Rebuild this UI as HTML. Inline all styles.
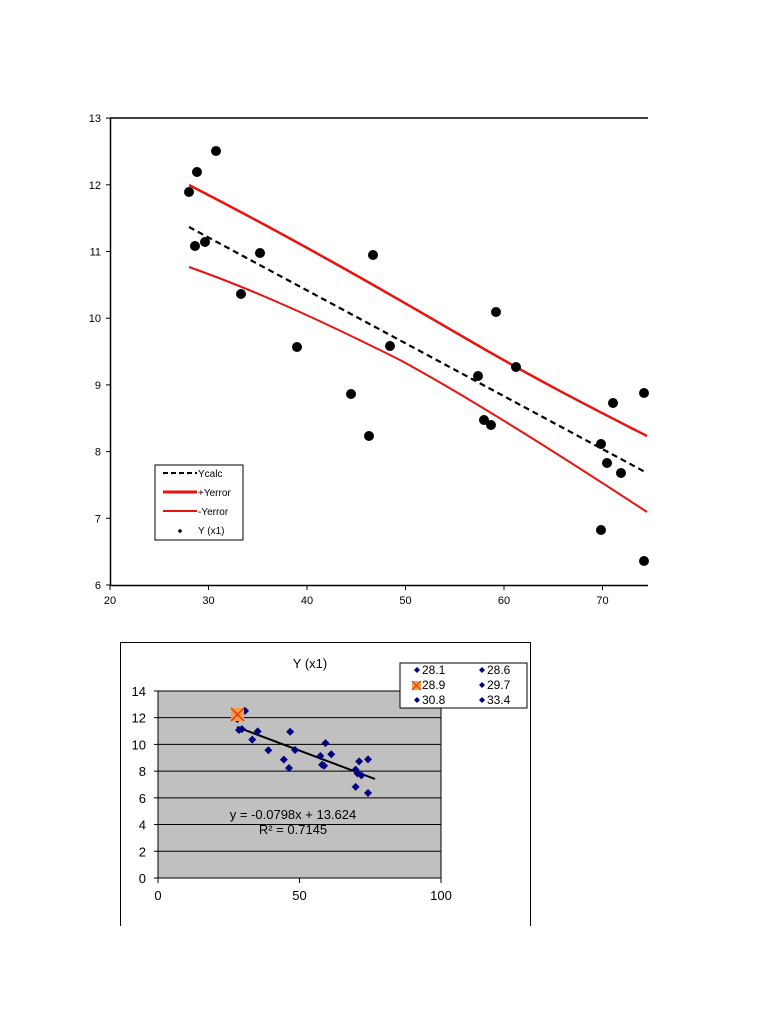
<!DOCTYPE html>
<html><head><meta charset="utf-8"><style>
html,body{margin:0;padding:0;background:#fff;}
svg{display:block;font-family:"Liberation Sans",sans-serif;}
</style></head><body>
<svg id="s" width="768" height="1024" viewBox="0 0 768 1024" xmlns="http://www.w3.org/2000/svg">
<rect width="768" height="1024" fill="#fff"/>
<line x1="110" y1="118" x2="648" y2="118" stroke="#000" stroke-width="1.5"/>
<line x1="110.5" y1="118" x2="110.5" y2="586" stroke="#000" stroke-width="1.5"/>
<line x1="110" y1="585.5" x2="648" y2="585.5" stroke="#000" stroke-width="1.5"/>
<g id="topticks" font-size="11" fill="#000"></g>
<path d="M189,185 C300,242 400,300 460,335 C540,382 600,412 647,436" fill="none" stroke="#e8130f" stroke-width="2.5"/>
<path d="M189,267 C260,292 330,325 400,360 C470,398 560,455 647,512" fill="none" stroke="#e8130f" stroke-width="2"/>
<line x1="189" y1="227" x2="647" y2="473" stroke="#000" stroke-width="2.2" stroke-dasharray="6,4"/>
<g id="toppts" fill="#000"></g>
<rect x="155" y="465" width="88" height="75" fill="#fff" stroke="#000" stroke-width="1"/>
<line x1="163" y1="473" x2="197" y2="473" stroke="#000" stroke-width="2" stroke-dasharray="5,3"/>
<text x="198" y="477" font-size="10">Ycalc</text>
<line x1="163" y1="492" x2="197" y2="492" stroke="#e8130f" stroke-width="3"/>
<text x="198" y="496" font-size="10">+Yerror</text>
<line x1="163" y1="511" x2="197" y2="511" stroke="#e8130f" stroke-width="2"/>
<text x="198" y="515" font-size="10">-Yerror</text>
<circle cx="180" cy="531" r="1.8" fill="#000"/>
<text x="198" y="534" font-size="10">Y (x1)</text>

<line x1="120.5" y1="642" x2="120.5" y2="926" stroke="#000" stroke-width="1"/>
<line x1="120" y1="642.5" x2="530" y2="642.5" stroke="#000" stroke-width="1"/>
<line x1="530.5" y1="642" x2="530.5" y2="926" stroke="#000" stroke-width="1"/>
<rect x="158" y="691" width="283" height="187" fill="#c0c0c0"/>
<g id="bgrid"></g>
<text x="310" y="668" font-size="13" text-anchor="middle">Y (x1)</text>
<line x1="237" y1="727" x2="375" y2="779" stroke="#000" stroke-width="2"/>
<g id="bpts" fill="#000080"></g>
<rect x="231" y="708" width="13" height="13" fill="#f5a03c"/>
<path d="M231,708 L244,721 M244,708 L231,721" stroke="#e8302a" stroke-width="1.5"/>
<text x="293" y="819" font-size="13" text-anchor="middle">y = -0.0798x + 13.624</text>
<text x="293" y="834" font-size="13" text-anchor="middle">R² = 0.7145</text>
<rect x="400" y="663" width="127" height="45" fill="#fff" stroke="#000" stroke-width="1"/>
<g font-size="12">
<path d="M417,667 l3,3 -3,3 -3,-3z" fill="#000080"/><text x="422" y="674">28.1</text>
<path d="M482,667 l3,3 -3,3 -3,-3z" fill="#000080"/><text x="487" y="674">28.6</text>
<rect x="412" y="681" width="9" height="9" fill="#f5a03c"/><path d="M412,681 l9,9 M421,681 l-9,9" stroke="#e8302a" stroke-width="1.2"/><text x="422" y="689">28.9</text>
<path d="M482,682 l3,3 -3,3 -3,-3z" fill="#000080"/><text x="487" y="689">29.7</text>
<path d="M417,697 l3,3 -3,3 -3,-3z" fill="#000080"/><text x="422" y="704">30.8</text>
<path d="M482,697 l3,3 -3,3 -3,-3z" fill="#000080"/><text x="487" y="704">33.4</text>
</g>
</svg>
<script>
var NS="http://www.w3.org/2000/svg";
function el(p,t,a,txt){var e=document.createElementNS(NS,t);for(var k in a)e.setAttribute(k,a[k]);if(txt!=null)e.textContent=txt;document.getElementById(p).appendChild(e);}
for(var v=6;v<=13;v++){var y=585-(v-6)*66.7;el("topticks","line",{x1:106,y1:y,x2:110,y2:y,stroke:"#000"});el("topticks","text",{x:101,y:y+4,"text-anchor":"end"},v);}
for(var v=20;v<=70;v+=10){var x=110+(v-20)*9.85;el("topticks","line",{x1:x,y1:585,x2:x,y2:590,stroke:"#000"});el("topticks","text",{x:x,y:604,"text-anchor":"middle"},v);}
var P=[[189,192],[195,246],[197,172],[205,242],[216,151],[241,294],[260,253],[297,347],[351,394],[369,436],[373,255],[390,346],[478,376],[484,420],[491,425],[496,312],[516,367],[601,444],[601,530],[607,463],[613,403],[621,473],[644,393],[644,561]];
P.forEach(function(p){el("toppts","circle",{cx:p[0],cy:p[1],r:5});});
for(var v=0;v<=14;v+=2){var y=878-v*13.36;el("bgrid","line",{x1:158,y1:y,x2:441,y2:y,stroke:"#000","stroke-width":1});el("bgrid","line",{x1:154,y1:y,x2:158,y2:y,stroke:"#000"});el("bgrid","text",{x:146,y:y+5,"text-anchor":"end","font-size":13},v);}
el("bgrid","line",{x1:158,y1:691,x2:158,y2:878,stroke:"#000"});
el("bgrid","line",{x1:441,y1:691,x2:441,y2:878,stroke:"#000"});
[0,50,100].forEach(function(v){var x=158+v*2.83;el("bgrid","line",{x1:x,y1:878,x2:x,y2:883,stroke:"#000"});el("bgrid","text",{x:x,y:900,"text-anchor":"middle","font-size":13},v);});
P.forEach(function(p){var dx=20+(p[0]-110)/9.85,dy=13-(p[1]-118)/66.7;var x=158+dx*2.83,y=878-dy*13.36;el("bpts","path",{d:"M"+x+","+(y-4)+" l4,4 -4,4 -4,-4z"});});
</script>
</body></html>
